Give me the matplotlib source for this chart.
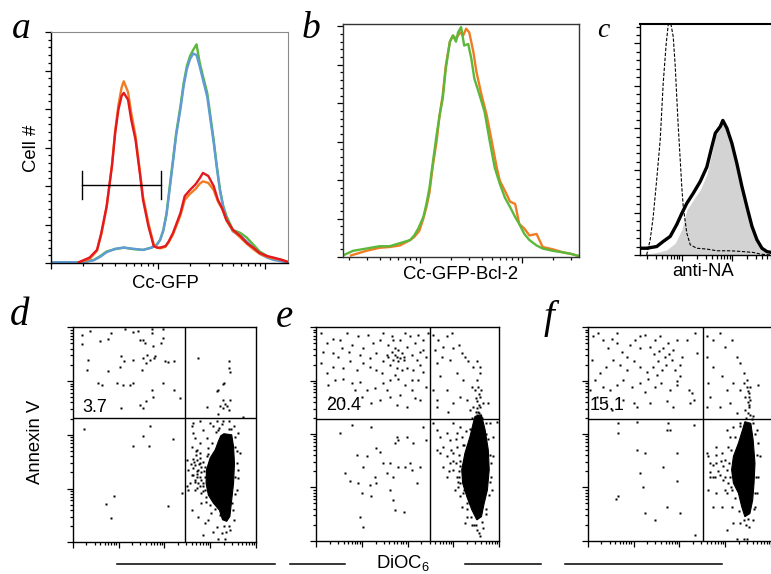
import numpy as np
import matplotlib
matplotlib.use("Agg")
import matplotlib.pyplot as plt
from matplotlib.lines import Line2D

plt.rcParams["font.family"] = ["Liberation Sans", "DejaVu Sans"]

W, H = 771, 574

# ---------------- data (x in log10 fluorescence, y in cell counts) ----------------
# panel a: Cc-GFP histograms
a_red_x = [0.26, 0.36, 0.43, 0.47, 0.52, 0.57, 0.60, 0.63, 0.66, 0.68, 0.72, 0.75, 0.79, 0.83,
           0.86, 0.91, 0.96, 0.99, 1.02, 1.07, 1.10, 1.14, 1.21, 1.25, 1.30, 1.35, 1.39, 1.42,
           1.47, 1.52, 1.56, 1.60, 1.64, 1.70, 1.77, 1.83, 1.89, 1.95, 2.02, 2.08, 2.16, 2.22]
a_red_y = [1, 7, 17, 39, 74, 126, 169, 199, 217, 221, 212, 186, 160, 117, 82, 48, 22, 20, 20, 22,
           28, 39, 65, 87, 95, 102, 110, 117, 113, 100, 82, 71, 56, 43, 35, 26, 20, 13, 9, 7, 4, 1]
a_orange_y = [1, 5, 16, 37, 72, 128, 172, 205, 228, 236, 222, 195, 165, 120, 86, 52, 24, 20, 19, 21,
              27, 37, 62, 82, 90, 96, 103, 106, 104, 95, 80, 70, 55, 42, 33, 25, 18, 12, 8, 6, 4, 1]
a_green_x = [0.01, 0.30, 0.40, 0.46, 0.52, 0.60, 0.68, 0.77, 0.86, 0.94, 0.99, 1.02, 1.05, 1.08,
             1.11, 1.14, 1.17, 1.21, 1.24, 1.27, 1.30, 1.33, 1.36, 1.39, 1.42, 1.46, 1.49, 1.52,
             1.55, 1.58, 1.61, 1.64, 1.67, 1.70, 1.77, 1.83, 1.89, 1.95, 2.02, 2.08, 2.16, 2.22]
a_green_y = [1, 1, 4, 9, 15, 18, 20, 18, 17, 20, 24, 30, 43, 65, 100, 134, 169, 204, 234, 256,
             269, 277, 284, 260, 243, 221, 191, 160, 126, 95, 74, 61, 52, 43, 39, 33, 24, 15, 9, 5, 3, 1]
a_blue_y = [1, 1, 3.5, 8, 14, 18.5, 20, 18.5, 17, 20, 24, 30, 42, 63, 97, 131, 166, 200, 230, 252,
            265, 272, 270, 255, 238, 216, 186, 157, 123, 93, 72, 58, 49, 41, 35, 28, 20, 12, 7, 4, 2, 1]
a_gate_x = [0.29, 1.03]
a_gate_y = 101

# panel b: Cc-GFP-Bcl-2 histograms
b_green_x = [0.24, 0.34, 0.47, 0.60, 0.70, 0.80, 0.90, 0.94, 0.98, 1.03, 1.06, 1.09, 1.12, 1.16,
             1.19, 1.22, 1.25, 1.29, 1.32, 1.35, 1.37, 1.40, 1.43, 1.47, 1.50, 1.53, 1.58, 1.63,
             1.68, 1.73, 1.78, 1.83, 1.88, 1.93, 1.97, 2.02, 2.07, 2.14, 2.20, 2.30, 2.40, 2.48, 2.56]
b_green_y = [2, 8, 11, 14, 14, 18, 22, 28, 37, 52, 69, 90, 120, 159, 185, 206, 245, 280, 288, 280,
             292, 299, 275, 277, 258, 232, 211, 189, 151, 116, 95, 77, 65, 52, 43, 30, 22, 15, 11, 8, 6, 4, 1]
b_orange_x = [0.32, 0.47, 0.60, 0.70, 0.80, 0.90, 0.94, 0.99, 1.03, 1.06, 1.09, 1.12, 1.16, 1.19,
              1.22, 1.25, 1.29, 1.32, 1.35, 1.39, 1.42, 1.45, 1.48, 1.52, 1.55, 1.60, 1.65, 1.70,
              1.75, 1.78, 1.83, 1.88, 1.93, 1.97, 2.02, 2.07, 2.14, 2.20, 2.30, 2.40, 2.48, 2.56]
b_orange_y = [2, 8, 12, 13, 15, 22, 26, 34, 50, 65, 84, 116, 151, 185, 211, 249, 280, 288, 284, 292,
              288, 297, 292, 267, 241, 211, 185, 151, 116, 99, 86, 72, 69, 43, 37, 28, 30, 13, 10, 6, 4, 1]

# panel c: anti-NA histograms
c_iso_x = [0.30, 0.37, 0.43, 0.50, 0.57, 0.63, 0.69, 0.73, 0.78, 0.83, 0.87, 0.90, 0.93, 0.97,
           1.00, 1.03, 1.10, 1.17, 1.30, 1.50, 1.70, 1.97, 2.23, 2.43, 2.57, 2.79]
c_iso_y = [0, 18, 45, 89, 136, 203, 250, 272, 274, 258, 223, 187, 152, 112, 81, 57, 26, 12, 8, 7,
           5, 5, 4, 3, 1, 0]
c_pos_x = [0.17, 0.30, 0.50, 0.63, 0.77, 0.90, 1.00, 1.10, 1.23, 1.37, 1.50, 1.60, 1.67, 1.77,
           1.82, 1.90, 2.00, 2.10, 2.20, 2.30, 2.40, 2.50, 2.60, 2.70, 2.79]
c_pos_y = [8, 8, 10, 16, 22, 36, 49, 61, 73, 87, 104, 128, 144, 152, 159, 150, 132, 108, 81, 57,
           34, 18, 8, 4, 3]
c_fill_x = [0.30, 0.50, 0.70, 0.87, 1.00, 1.10, 1.23, 1.37, 1.50, 1.60, 1.67, 1.77, 1.82, 1.90,
            2.00, 2.10, 2.20, 2.30, 2.40, 2.50, 2.60, 2.70, 2.79]
c_fill_y = [1, 3, 6, 14, 30, 53, 65, 77, 95, 120, 140, 150, 156, 148, 130, 106, 79, 55, 32, 16, 7, 3, 1]

# panels d-f: DiOC6 (x) vs Annexin V (y), log10 decades
d_dots = [(0.20, 3.85), (0.38, 3.94), (0.21, 3.69), (0.60, 3.74), (0.76, 3.78), (0.84, 3.89),
          (0.34, 3.40), (0.31, 3.21), (0.56, 2.96), (0.63, 2.93), (0.78, 3.18), (0.96, 2.96),
          (1.03, 3.27), (1.05, 3.46), (1.09, 2.93), (1.13, 3.37), (1.25, 2.93), (1.31, 2.96),
          (1.31, 3.40), (1.43, 3.93), (1.47, 3.77), (1.51, 3.21), (1.54, 3.43), (1.58, 3.71),
          (1.61, 3.34), (1.63, 3.49), (1.69, 3.40), (1.72, 3.89), (1.75, 3.65), (1.77, 3.43),
          (1.80, 3.46), (1.72, 2.84), (1.76, 2.71), (1.61, 2.62), (1.54, 2.50), (1.47, 2.56),
          (1.96, 3.96), (1.93, 3.71), (1.98, 3.80), (1.98, 2.96), (2.01, 3.37), (2.09, 3.35),
          (2.20, 2.84), (2.22, 3.37), (2.34, 2.68), (1.05, 2.50), (1.14, 3.97), (1.32, 3.91),
          (1.54, 3.77), (1.72, 3.97),
          (0.25, 2.11), (1.31, 1.80), (1.54, 1.97), (1.69, 2.17), (1.67, 1.80), (2.18, 1.93),
          (2.09, 0.68), (0.91, 0.87), (0.72, 0.71), (0.84, 0.46), (2.38, 0.91),
          (2.73, 3.43), (3.40, 3.37), (3.42, 3.24), (3.43, 3.16), (3.30, 2.96), (3.27, 2.94),
          (3.18, 2.84), (3.14, 2.81), (2.94, 2.52), (3.21, 2.53), (3.29, 2.50), (3.36, 2.53),
          (3.40, 2.47), (3.43, 2.65), (3.27, 2.65), (3.72, 2.34), (3.18, 2.39), (3.33, 2.57),
          (2.63, 2.22), (2.78, 2.25), (2.60, 2.16), (2.63, 2.03), (2.99, 2.22), (3.14, 2.25),
          (3.29, 2.26), (3.40, 2.25), (3.51, 2.16), (3.61, 2.03), (3.54, 1.78), (3.65, 1.66),
          (3.61, 1.35), (3.58, 0.98), (3.47, 0.73), (3.51, 0.42), (3.43, 0.23), (3.25, 0.17),
          (3.07, 0.20), (2.85, 0.14), (2.89, 0.35), (2.74, 0.48), (2.60, 0.60), (2.52, 0.98),
          (2.49, 1.04), (2.56, 1.10), (2.63, 1.25), (2.71, 1.32), (2.49, 1.53), (2.71, 1.72),
          (2.78, 1.84), (2.67, 1.94), (2.60, 1.78), (2.85, 2.09), (3.07, 2.16), (3.18, 2.09),
          (2.92, 1.94), (2.78, 1.47), (2.67, 0.98), (2.81, 0.73), (2.96, 0.42), (3.14, 0.29),
          (3.32, 0.07), (3.18, 0.07), (3.54, 1.22), (3.58, 1.47), (2.78, 1.22), (2.52, 1.35),
          (2.89, 0.98),
          (2.71, 1.53), (2.78, 1.57), (2.85, 1.50), (2.67, 1.44), (2.81, 1.41), (2.74, 1.35),
          (2.86, 1.32), (2.63, 1.38), (2.71, 1.22), (2.81, 1.16), (2.89, 1.22), (2.74, 1.10),
          (2.85, 1.04), (2.67, 1.16), (2.78, 1.04), (2.92, 1.60), (2.60, 1.25), (2.91, 0.85),
          (2.81, 0.91), (2.71, 1.01),
          (2.65, 1.50), (2.70, 1.62), (2.75, 1.45), (2.80, 1.30), (2.72, 1.28), (2.66, 1.12),
          (2.84, 1.10), (2.88, 1.40), (2.77, 1.66), (2.95, 1.75), (3.05, 1.85), (3.12, 2.05),
          (3.20, 2.12), (3.40, 2.10), (3.55, 1.95), (3.58, 1.70), (3.60, 1.20), (3.55, 0.90),
          (3.50, 0.60), (3.40, 0.30), (3.30, 0.30), (3.22, 0.50), (3.10, 0.62), (3.00, 0.70),
          (2.90, 0.75), (2.85, 0.95), (2.95, 1.00), (2.62, 1.55), (2.68, 1.70), (2.58, 1.45),
          (2.96, 1.65), (3.02, 0.55), (3.35, 0.20), (3.45, 2.10), (3.25, 2.20)]
d_core = [(3.30, 2.02), (3.47, 2.00), (3.51, 1.78), (3.53, 1.47), (3.51, 1.10), (3.47, 0.79),
          (3.43, 0.48), (3.36, 0.39), (3.27, 0.42), (3.20, 0.60), (3.07, 0.73), (2.96, 0.88),
          (2.91, 1.10), (2.92, 1.35), (3.00, 1.57), (3.11, 1.72), (3.18, 1.88), (3.23, 1.98)]
d_quad = (2.44, 2.32)
d_pct = "3.7"

e_dots = [(0.12, 3.89), (0.23, 3.70), (0.38, 3.79), (0.52, 3.76), (0.67, 3.89), (0.78, 3.67),
          (0.92, 3.83), (1.03, 3.61), (1.14, 3.86), (1.25, 3.70), (1.40, 3.76), (1.47, 3.89),
          (1.58, 3.67), (1.65, 3.83), (1.72, 3.61), (1.76, 3.45), (1.80, 3.36), (1.83, 3.76),
          (1.87, 3.51), (1.92, 3.39), (1.98, 3.64), (2.05, 3.83), (2.09, 3.48), (2.16, 3.70),
          (2.23, 3.86), (2.27, 3.54), (2.34, 3.76), (2.41, 3.45), (2.45, 3.89), (1.76, 3.23),
          (1.62, 3.29), (1.47, 3.36), (1.32, 3.20), (1.18, 3.26), (1.03, 3.33), (0.89, 3.20),
          (0.74, 3.36), (0.60, 3.23), (0.49, 3.45), (0.38, 3.26), (0.23, 3.14), (0.12, 3.33),
          (0.27, 2.92), (0.42, 3.01), (0.60, 3.04), (0.78, 2.95), (0.96, 2.98), (1.11, 2.83),
          (1.29, 2.86), (1.47, 2.95), (1.62, 3.01), (1.80, 3.04), (1.94, 2.92), (2.09, 2.83),
          (2.23, 3.01), (2.34, 3.17), (2.41, 2.89), (1.40, 2.64), (1.62, 2.70), (1.83, 2.73),
          (1.98, 2.51), (2.16, 2.67), (2.27, 2.64), (1.76, 2.54), (2.09, 3.01), (0.31, 2.70),
          (1.00, 2.70), (1.21, 2.58), (0.60, 2.64), (0.85, 2.83), (1.54, 2.83), (1.32, 3.51),
          (1.18, 3.42), (0.96, 3.48), (0.71, 3.54), (0.56, 3.61), (0.38, 3.51), (0.16, 3.54),
          (2.27, 3.29), (2.12, 3.20), (1.98, 3.23), (1.69, 3.76), (1.94, 3.89), (1.54, 3.48),
          (1.43, 3.14), (2.34, 3.58), (2.20, 3.39), (1.87, 3.20), (1.72, 3.11), (1.65, 3.54),
          (1.72, 3.48), (1.80, 3.58), (1.69, 3.39), (1.83, 3.42), (1.58, 3.45), (1.91, 3.45),
          (2.56, 3.86), (2.67, 3.76), (2.78, 3.64), (2.85, 3.83), (2.96, 3.89), (3.00, 3.61),
          (3.11, 3.67), (3.18, 3.51), (3.25, 3.45), (3.32, 3.36), (3.43, 3.26), (3.51, 3.36),
          (3.58, 3.14), (3.51, 3.01), (3.54, 2.89), (3.47, 2.83), (3.58, 2.70), (3.51, 2.61),
          (3.58, 2.51), (3.54, 2.42), (3.36, 2.45), (3.29, 2.64), (3.14, 2.70), (3.00, 2.58),
          (2.85, 2.83), (2.71, 3.08), (2.63, 3.33), (2.56, 2.83), (2.63, 2.51), (2.92, 3.39),
          (3.07, 3.14), (2.74, 3.45), (2.60, 3.58), (3.21, 3.01), (3.40, 2.89), (3.58, 3.26),
          (3.61, 2.83), (3.51, 2.36), (2.63, 2.64), (3.65, 2.58), (3.43, 2.51), (2.89, 2.42),
          (3.76, 2.58), (3.55, 2.40), (3.52, 2.48), (3.56, 2.55), (3.50, 2.68), (3.55, 2.75),
          (0.78, 2.17), (1.21, 2.14), (0.52, 2.01), (2.34, 2.14), (1.76, 1.95), (1.80, 1.89),
          (1.72, 1.83), (1.98, 1.95), (2.12, 1.83), (1.32, 1.73), (0.89, 1.61), (1.11, 1.58),
          (1.40, 1.67), (1.62, 1.45), (1.47, 1.45), (1.80, 1.39), (1.94, 1.39), (2.05, 1.45),
          (1.03, 1.39), (0.63, 1.26), (1.29, 1.20), (1.54, 1.26), (1.69, 1.20), (0.74, 1.11),
          (0.92, 1.08), (1.18, 1.04), (1.32, 1.08), (1.00, 0.89), (1.62, 0.95), (1.69, 0.76),
          (1.72, 0.58), (1.91, 0.54), (1.21, 0.83), (0.96, 0.45), (1.03, 0.26), (2.09, 1.33),
          (2.27, 1.39), (2.41, 1.89), (2.20, 1.08),
          (2.56, 2.20), (2.63, 2.08), (2.71, 1.95), (2.78, 1.76), (2.63, 1.70), (2.85, 1.58),
          (2.92, 1.45), (3.00, 1.33), (2.78, 1.39), (3.07, 1.20), (3.14, 1.08), (3.03, 0.95),
          (2.85, 2.01), (3.00, 2.20), (3.14, 2.14), (3.18, 1.95), (3.07, 1.76), (3.00, 1.64),
          (3.18, 0.64), (3.29, 0.45), (3.40, 0.29), (3.51, 0.20), (3.58, 0.08), (3.65, 0.23),
          (3.83, 0.95), (3.87, 1.58), (3.87, 1.95), (3.94, 2.23), (3.80, 2.20), (3.25, 0.33),
          (3.14, 0.83), (2.92, 1.89), (3.07, 2.01), (2.85, 1.20), (2.71, 1.64), (3.12, 1.30),
          (3.15, 1.50), (3.10, 1.10), (3.20, 0.90), (3.30, 0.70), (3.45, 0.30), (3.70, 0.50),
          (3.80, 1.10), (3.82, 1.45), (3.75, 1.90), (3.70, 2.20), (3.35, 2.10), (3.22, 1.80),
          (3.12, 1.20), (3.15, 1.40), (3.12, 1.60), (3.20, 1.80), (3.28, 2.05), (3.40, 2.30),
          (3.50, 2.42), (3.62, 2.30), (3.72, 2.00), (3.80, 1.60), (3.82, 1.20), (3.78, 0.85),
          (3.70, 0.60), (3.62, 0.35), (3.50, 0.30), (3.38, 0.45), (3.30, 0.60), (3.22, 0.95),
          (3.10, 1.00), (3.05, 1.45), (3.00, 1.50), (2.95, 1.70), (2.90, 1.30), (3.05, 1.90),
          (3.55, 0.15)]
e_core = [(3.47, 2.33), (3.61, 2.36), (3.69, 2.08), (3.76, 1.70), (3.78, 1.33), (3.74, 0.95),
          (3.67, 0.70), (3.61, 0.45), (3.51, 0.39), (3.40, 0.58), (3.29, 0.83), (3.20, 1.08),
          (3.18, 1.33), (3.25, 1.64), (3.36, 1.95), (3.43, 2.20)]
e_quad = (2.49, 2.29)
e_pct = "20.4"

f_dots = [(0.12, 3.83), (0.23, 3.89), (0.34, 3.76), (0.45, 3.61), (0.52, 3.79), (0.63, 3.70),
          (0.74, 3.54), (0.85, 3.45), (0.92, 3.67), (1.03, 3.76), (1.14, 3.83), (1.25, 3.86),
          (1.36, 3.64), (1.47, 3.76), (1.58, 3.83), (1.65, 3.61), (1.76, 3.70), (1.87, 3.58),
          (1.94, 3.76), (1.83, 3.39), (1.68, 3.45), (1.54, 3.36), (1.43, 3.26), (1.29, 3.17),
          (1.14, 3.26), (1.00, 3.36), (0.85, 3.20), (0.71, 3.29), (0.56, 3.39), (0.41, 3.26),
          (0.27, 3.14), (0.16, 3.01), (0.34, 2.89), (0.49, 2.83), (0.63, 2.92), (0.78, 3.01),
          (0.96, 2.89), (1.14, 2.95), (1.32, 3.04), (1.47, 2.89), (1.61, 2.95), (1.80, 2.83),
          (1.94, 2.92), (2.01, 3.08), (2.20, 2.83), (2.27, 2.76), (2.31, 2.64), (2.23, 2.58),
          (1.72, 2.61), (1.36, 2.58), (1.07, 2.51), (0.78, 2.64), (0.41, 2.61), (0.20, 2.70),
          (0.05, 2.83), (2.16, 3.76), (2.34, 3.89), (2.38, 3.51), (2.01, 3.29), (1.14, 3.61),
          (0.63, 3.89), (0.09, 3.39), (1.51, 3.11), (1.25, 2.79), (1.00, 2.58), (0.52, 2.45),
          (1.87, 2.51), (1.55, 3.55), (1.70, 3.30), (1.90, 3.20), (1.45, 3.50), (1.78, 3.50),
          (2.05, 3.45), (1.62, 3.20), (1.95, 3.00),
          (0.67, 2.20), (1.07, 2.23), (1.72, 2.08), (1.80, 2.08), (2.31, 2.17), (0.67, 2.01),
          (1.07, 1.70), (1.25, 1.64), (1.65, 1.39), (1.94, 1.64), (1.94, 1.11), (1.14, 1.26),
          (1.21, 1.01), (0.67, 0.83), (0.62, 0.79), (1.25, 0.51), (1.47, 0.39), (1.72, 0.64),
          (2.01, 0.51), (2.34, 0.11), (1.76, 2.20),
          (2.60, 3.83), (2.74, 3.76), (2.89, 3.89), (3.00, 3.64), (3.14, 3.76), (3.25, 3.45),
          (3.32, 3.33), (3.40, 3.14), (3.47, 3.01), (3.54, 2.89), (3.51, 2.76), (3.43, 2.70),
          (3.54, 2.64), (3.51, 2.54), (3.43, 2.45), (3.32, 2.83), (3.18, 2.95), (3.03, 2.83),
          (2.92, 3.08), (2.74, 3.26), (2.63, 2.95), (2.67, 2.70), (2.60, 2.51), (2.89, 2.51),
          (3.11, 2.58), (3.25, 2.39), (3.61, 2.33), (3.72, 2.92), (3.54, 2.36), (3.47, 2.89),
          (3.40, 2.95), (2.60, 3.45), (3.50, 2.40), (3.52, 2.50), (3.49, 2.60), (3.53, 2.70),
          (3.50, 2.80),
          (2.60, 1.64), (2.63, 1.58), (2.67, 1.45), (2.74, 1.42), (2.81, 1.45), (2.67, 1.29),
          (2.74, 1.20), (2.89, 1.23), (2.96, 1.14), (3.03, 1.33), (3.00, 1.51), (2.92, 1.64),
          (2.81, 1.76), (3.07, 1.76), (3.11, 1.95), (3.03, 2.08), (3.18, 2.14), (3.32, 2.20),
          (3.61, 2.20), (3.69, 2.08), (3.72, 1.83), (3.76, 1.58), (3.72, 1.20), (3.69, 0.89),
          (3.65, 0.64), (3.61, 0.39), (3.51, 0.26), (3.32, 0.33), (3.18, 0.33), (3.03, 0.20),
          (2.92, 0.64), (2.74, 0.64), (2.63, 0.95), (2.81, 0.89), (3.03, 0.89), (3.14, 0.64),
          (3.25, 0.04), (3.40, 0.04), (3.47, 0.04), (2.67, 1.20), (3.07, 1.08), (3.14, 0.95),
          (3.10, 1.20), (3.08, 1.45), (3.12, 1.70), (3.22, 1.95), (3.32, 2.15), (3.45, 2.30),
          (3.58, 2.28), (3.66, 2.00), (3.70, 1.60), (3.68, 1.20), (3.66, 0.90), (3.62, 0.60),
          (3.50, 0.40), (3.40, 0.38), (3.30, 0.55), (3.22, 0.80), (3.12, 1.00), (3.00, 1.20),
          (2.95, 1.40), (2.85, 1.30), (2.90, 1.50), (2.80, 1.60), (2.78, 1.20), (3.00, 0.95),
          (3.45, 0.30)]
f_core = [(3.43, 2.23), (3.56, 2.20), (3.61, 1.89), (3.65, 1.45), (3.63, 1.08), (3.60, 0.76),
          (3.54, 0.51), (3.43, 0.45), (3.36, 0.64), (3.29, 0.89), (3.18, 1.08), (3.14, 1.33),
          (3.18, 1.58), (3.29, 1.83), (3.38, 2.08)]
f_quad = (2.52, 2.29)
f_pct = "15.1"

RED, ORANGE, GREEN, BLUE = "#e3191f", "#f07c23", "#5bb83b", "#5f9bd6"

fig = plt.figure(figsize=(W / 100, H / 100), dpi=100)


def add_box(left, top, right, bottom):
    return fig.add_axes([left / W, 1 - bottom / H, (right - left) / W, (bottom - top) / H])


def log_ticks(lo, hi):
    major = [k for k in range(int(np.floor(lo)), int(np.ceil(hi)) + 1) if lo - 1e-9 <= k <= hi + 1e-9]
    minor = [k + np.log10(m) for k in range(int(np.floor(lo)) - 1, int(np.ceil(hi)) + 1)
             for m in range(2, 10)]
    minor = [v for v in minor if lo <= v <= hi]
    return major, minor


def style_axes(ax, xlim, ylim, ymajor=None, yminor=None):
    ax.set_xlim(*xlim)
    ax.set_ylim(*ylim)
    maj, mnr = log_ticks(*xlim)
    ax.set_xticks(maj)
    ax.set_xticks(mnr, minor=True)
    if ymajor is None:
        maj, mnr = log_ticks(*ylim)
        ax.set_yticks(maj)
        ax.set_yticks(mnr, minor=True)
    else:
        ax.set_yticks(np.arange(0, ylim[1] + 0.1, ymajor))
        ax.set_yticks(np.arange(0, ylim[1] + 0.1, yminor), minor=True)
    ax.tick_params(which="both", direction="out", labelbottom=False, labelleft=False,
                   width=0.9, color="k")
    ax.tick_params(which="major", length=4.5)
    ax.tick_params(which="minor", length=2.5)
    for s in ax.spines.values():
        s.set_color("k")
        s.set_linewidth(1.0)


def letter(x, y, s, size=27):
    fig.text(x / W, 1 - y / H, s, fontsize=size, family="Liberation Serif",
             style="italic", va="baseline", ha="left")


def label(x, y, s, rot=0, size=13.3):
    fig.text(x / W, 1 - y / H, s, fontsize=size, rotation=rot, ha="center", va="center")


# ---- panel a ----
ax = add_box(51, 32, 288, 263)
ax.plot(a_green_x, a_green_y, color=GREEN, lw=1.7)
ax.plot(a_green_x, a_blue_y, color=BLUE, lw=1.7)
ax.plot(a_red_x, a_orange_y, color=ORANGE, lw=1.7)
ax.plot(a_red_x, a_red_y, color=RED, lw=1.7)
ax.plot(a_gate_x, [a_gate_y, a_gate_y], color="k", lw=1.0)
for gx in a_gate_x:
    ax.plot([gx, gx], [a_gate_y - 18, a_gate_y + 18], color="k", lw=1.0)
style_axes(ax, (0, 2.215), (0, 300), 50, 10)
for s in ("top", "right"):
    ax.spines[s].set_color("#8a8a8a")
    ax.spines[s].set_linewidth(0.8)
letter(12, 38, "a")
label(32, 148, "Cell #", rot=90)
label(165, 283, "Cc-GFP")

# ---- panel b ----
ax = add_box(343, 24, 579, 257)
ax.plot(b_orange_x, b_orange_y, color=ORANGE, lw=1.7)
ax.plot(b_green_x, b_green_y, color=GREEN, lw=1.7)
style_axes(ax, (0.242, 2.556), (0, 303), 50, 10)
for s in ax.spines.values():
    s.set_color("#333333")
letter(302, 38, "b")
label(460, 274, "Cc-GFP-Bcl-2")

# ---- panel c ----
ax = add_box(640, 24, 782, 255)
ax.fill_between(c_fill_x, c_fill_y, color="#d3d3d3", lw=0)
ax.plot(c_iso_x, c_iso_y, color="k", lw=0.8, ls=(0, (3, 1.5)))
ax.plot(c_pos_x, c_pos_y, color="k", lw=2.4)
style_axes(ax, (0.167, 3.0), (0, 273), 50, 10)
ax.tick_params(which="minor", length=3)
ax.spines["top"].set_linewidth(1.5)
ax.spines["right"].set_visible(False)
letter(597, 37, "c", size=20)
label(703, 272, "anti-NA")

# ---- panels d, e, f ----
panels = [
    ((72.7, 327.3, 256, 542.3), d_dots, d_core, d_quad, d_pct, (0.20, 2.50)),
    ((316, 327.3, 499.3, 540.7), e_dots, e_core, e_quad, e_pct, (0.23, 2.54)),
    ((587.7, 327.3, 771, 540.7), f_dots, f_core, f_quad, f_pct, (0.04, 2.54)),
]
for pos, dots, core, quad, pct, tpos in panels:
    ax = add_box(*pos)
    cx, cy = zip(*core)
    ax.fill(cx, cy, color="k", lw=0.8)
    dx, dy = zip(*dots)
    ax.plot(dx, dy, ls="none", marker="s", ms=2.0, color="k", mec="none")
    ax.axvline(quad[0], color="k", lw=1.0)
    ax.axhline(quad[1], color="k", lw=1.0)
    ax.text(tpos[0], tpos[1], pct, fontsize=13, ha="left", va="center")
    style_axes(ax, (0, 4), (0, 4))
ax.spines["right"].set_visible(False)

letter(10, 325, "d", size=28)
letter(276, 327, "e", size=28)
letter(544, 328, "f", size=28)
label(35, 442, "Annexin V", rot=90)
fig.text(376 / W, 1 - 568 / H, r"DiOC$_{\mathregular{6}}$", fontsize=13.3, ha="left", va="baseline")

# horizontal rules along the bottom
for x0, x1 in [(117, 275), (290, 345), (465, 541), (565, 722)]:
    fig.add_artist(Line2D([x0 / W, x1 / W], [1 - 564 / H, 1 - 564 / H],
                          transform=fig.transFigure, color="k", lw=1.1))

fig.savefig("out.png", dpi=100)
